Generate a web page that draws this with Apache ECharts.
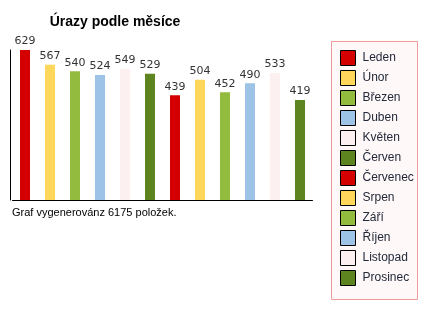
<!DOCTYPE html>
<html>
<head>
<meta charset="utf-8">
<script src="https://cdn.jsdelivr.net/npm/echarts@6/dist/echarts.min.js"></script>
<style>
  html, body { margin: 0; padding: 0; background: #fff; }
  #chart { width: 448px; height: 310px; }
</style>
</head>
<body>
<div id="chart"></div>
<script>
// data
var months = ['Leden', 'Únor', 'Březen', 'Duben', 'Květen', 'Červen',
              'Červenec', 'Srpen', 'Září', 'Říjen', 'Listopad', 'Prosinec'];
var values = [629, 567, 540, 524, 549, 529, 439, 504, 452, 490, 533, 419];
var colors = ['#d40000', '#ffd75a', '#93bc3e', '#9dc3e6', '#fdf0f0', '#5e8420',
              '#d40000', '#ffd75a', '#93bc3e', '#9dc3e6', '#fdf0f0', '#5e8420'];
var total = 6175;

var myChart = echarts.init(document.getElementById('chart'));

// one series per month so the legend lists each month
var series = months.map(function (m, i) {
    var d = months.map(function (x, j) { return j === i ? values[i] : '-'; });
    return {
        name: m,
        type: 'bar',
        stack: 'all',
        data: d,
        barWidth: 10,
        itemStyle: { color: colors[i] },
        label: {
            show: true,
            position: 'top',
            distance: 3,
            color: '#333',
            fontFamily: 'DejaVu Sans',
            fontSize: 11
        }
    };
});

var option = {
    animation: false,
    title: {
        text: 'Úrazy podle měsíce',
        left: 110,
        textAlign: 'center',
        top: 10,
        textStyle: { fontFamily: 'Liberation Sans', fontSize: 14, fontWeight: 'bold', color: '#000' }
    },
    graphic: [{
        type: 'text',
        left: 12,
        top: 207,
        style: {
            text: 'Graf vygenerovánz ' + total + ' položek.',
            font: '11px "Liberation Sans"',
            fill: '#000'
        }
    }, {
        // legend frame
        type: 'rect',
        left: 331,
        top: 41,
        z: -1,
        shape: { width: 86, height: 258 },
        style: { fill: '#fff8f8', stroke: '#f19a9a', lineWidth: 1 }
    }],
    legend: {
        orient: 'vertical',
        left: 340,
        top: 50,
        padding: 0,
        itemWidth: 15,
        itemHeight: 15,
        itemGap: 4,
        icon: 'rect',
        data: months,
        itemStyle: { borderColor: '#000', borderWidth: 1 },
        textStyle: { fontFamily: 'Liberation Sans', fontSize: 12, lineHeight: 15, height: 15, color: '#222a3a', padding: [0, 0, 0, 2] },
        selectedMode: false
    },
    grid: { left: 12.5, right: 135.5, top: 50, bottom: 110 },
    xAxis: {
        type: 'category',
        data: months,
        axisLine: { lineStyle: { color: '#000' } },
        axisTick: { show: false },
        axisLabel: { show: false }
    },
    yAxis: {
        type: 'value',
        min: 0,
        max: 629,
        offset: 2.5,
        axisLine: { show: true, lineStyle: { color: '#000' } },
        axisTick: { show: false },
        axisLabel: { show: false },
        splitLine: { show: false }
    },
    series: series
};

myChart.setOption(option, true);
</script>
</body>
</html>
